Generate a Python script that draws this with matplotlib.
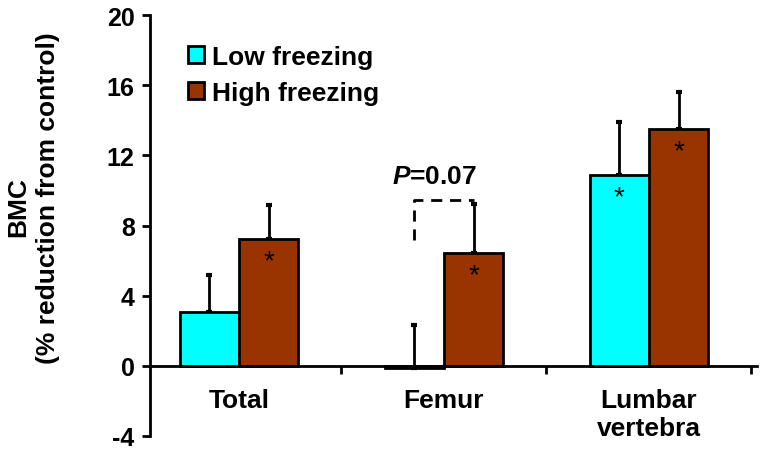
import matplotlib.pyplot as plt
import numpy as np

plt.rcParams["font.family"] = ["Liberation Sans", "DejaVu Sans"]
plt.rcParams["axes.unicode_minus"] = False
plt.rcParams["mathtext.fontset"] = "custom"
plt.rcParams["mathtext.bfit"] = "Liberation Sans:italic:bold"
plt.rcParams["mathtext.rm"] = "Liberation Sans:bold"

categories = ["Total", "Femur", "Lumbar\nvertebra"]
low_freezing = [3.05, -0.1, 10.9]
low_err = [2.1, 2.45, 3.0]
high_freezing = [7.25, 6.45, 13.5]
high_err = [1.9, 2.8, 2.1]
low_stars = ["", "", "*"]
high_stars = ["*", "*", "*"]

x = np.arange(len(categories))
w = 0.29

fig = plt.figure(figsize=(7.61, 4.56), dpi=100)
ax = fig.add_axes([150 / 761, 19 / 456, 607 / 761, 421 / 456])

bar_kw = dict(edgecolor="black", linewidth=2, zorder=3)
err_kw = dict(elinewidth=2, capsize=2, capthick=3, ecolor="black", zorder=2)
ax.bar(x - w / 2, low_freezing, w, color="#00FFFF", label="Low freezing",
       yerr=[np.zeros(3), low_err], error_kw=err_kw, **bar_kw)
ax.bar(x + w / 2, high_freezing, w, color="#993300", label="High freezing",
       yerr=[np.zeros(3), high_err], error_kw=err_kw, **bar_kw)

for i in range(len(categories)):
    if low_stars[i]:
        ax.text(x[i] - w / 2, low_freezing[i] - 2.0, low_stars[i], ha="center",
                va="bottom", fontsize=20, zorder=4)
    if high_stars[i]:
        ax.text(x[i] + w / 2, high_freezing[i] - 2.0, high_stars[i], ha="center",
                va="bottom", fontsize=20, zorder=4)

# P-value bracket on femur
ax.plot([1 - w / 2, 1 - w / 2, 1 + w / 2], [7.2, 9.45, 9.45], color="black",
        linewidth=2, linestyle=(0, (4, 2.8)), zorder=4)
ax.text(1 - 0.045, 10.45, "$\\mathbfit{P}$=0.07", ha="center", va="baseline",
        fontsize=19, fontweight="bold")

ax.set_xlim(-0.434, 2.527)
ax.set_ylim(-4, 20)
ax.set_yticks(np.arange(-4, 21, 4))
ax.tick_params(axis="y", labelsize=18, width=2, length=6, direction="out", pad=5)
for lbl in ax.get_yticklabels():
    lbl.set_fontweight("bold")

ax.spines["bottom"].set_position(("data", 0))
ax.spines["top"].set_visible(False)
ax.spines["right"].set_visible(False)
ax.spines["left"].set_linewidth(2)
ax.spines["bottom"].set_linewidth(2)

ax.set_xticks(x)
ax.set_xticklabels(categories, fontsize=19, fontweight="bold", linespacing=1.2)
ax.set_xticks([0.5, 1.5, 2.5], minor=True)
ax.tick_params(axis="x", which="major", length=0, pad=16)
ax.tick_params(axis="x", which="minor", length=6, width=2, direction="out")

fig.text(18 / 761, 1 - 207 / 456, "BMC", rotation=90, ha="center", va="center",
         fontsize=19, fontweight="bold")
fig.text(48 / 761, 1 - 198 / 456, "(% reduction from control)", rotation=90,
         ha="center", va="center", fontsize=19, fontweight="bold")

leg = ax.legend(loc="upper left", bbox_to_anchor=(0.024, 0.985), frameon=False,
                handlelength=0.6, handleheight=0.6, handletextpad=0.3,
                labelspacing=0.45, prop={"weight": "bold", "size": 19})

fig.savefig("out.png", dpi=100)
